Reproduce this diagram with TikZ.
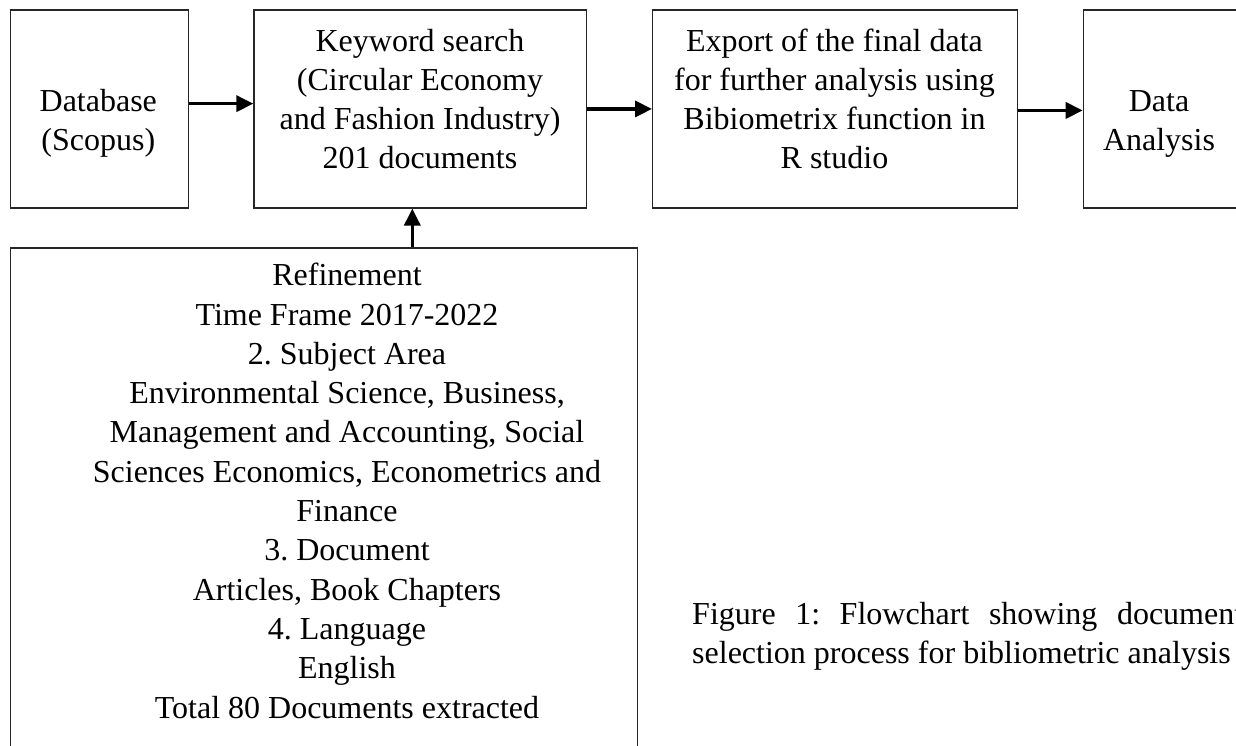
\documentclass[tikz,border=0pt]{standalone}
\usepackage{fontspec}
\setmainfont{Liberation Serif}
\usetikzlibrary{arrows.meta}
\frenchspacing
\tikzset{
  boxnode/.style={draw=black!85, line width=1.3pt, rectangle, inner sep=0pt, anchor=north west},
  txt/.style={font=\fontsize{32}{39.3}\selectfont, align=center, inner sep=0pt, anchor=base},
  arr/.style={line width=3.5pt, -{Triangle[length=17pt,width=16pt]}},
}
\begin{document}
\begin{tikzpicture}[x=1pt,y=-1pt]
\useasboundingbox (0,0) rectangle (1236,746);
\clip (0,0) rectangle (1236,746);
% boxes
\node[boxnode, minimum width=178.2pt, minimum height=198pt] (db) at (9.5,9.3) {};
\node[boxnode, minimum width=332.7pt, minimum height=198pt] (kw) at (253.3,9.3) {};
\node[boxnode, minimum width=364.7pt, minimum height=198pt] (ex) at (652,9.3) {};
\node[boxnode, minimum width=170pt, minimum height=198pt] (da) at (1082.7,9.3) {};
\node[boxnode, minimum width=627.2pt, minimum height=520pt] (ref) at (9.5,247.3) {};
% texts (anchor=base is the baseline of the last line)
\node[txt] (dbt) at (98.3,151) {Database\\(Scopus)};
\node[txt] (kwt) at (420,169) {Keyword search\\(Circular Economy\\and Fashion Industry)\\201 documents};
\node[txt] (ext) at (834.5,169) {Export of the final data\\for further analysis using\\Bibiometrix function in\\R studio};
\node[txt] (dat) at (1159,151) {Data\\Analysis};
\node[txt] (reft) at (347,718) {Refinement\\Time Frame 2017-2022\\2. Subject Area\\Environmental Science, Business,\\Management and Accounting, Social\\Sciences Economics, Econometrics and\\Finance\\3. Document\\Articles, Book Chapters\\4. Language\\English\\Total 80 Documents extracted};
\node[txt, anchor=base west, align=left] (cap) at (692,663.3) {\hbox to 551pt{Figure\hfill 1:\hfill Flowchart\hfill showing\hfill document}\\selection process for bibliometric analysis};
% connectors
\draw[arr] ([yshift=5.3pt]db.east) -- ([yshift=5.3pt]kw.west);
\draw[arr] (kw.east) -- (ex.west);
\draw[arr] ([yshift=-1.5pt]ex.east) -- ([yshift=-1.5pt]da.west);
\draw[arr] ([xshift=-8pt]kw.south |- ref.north) -- ([xshift=-8pt]kw.south);
\end{tikzpicture}
\end{document}
